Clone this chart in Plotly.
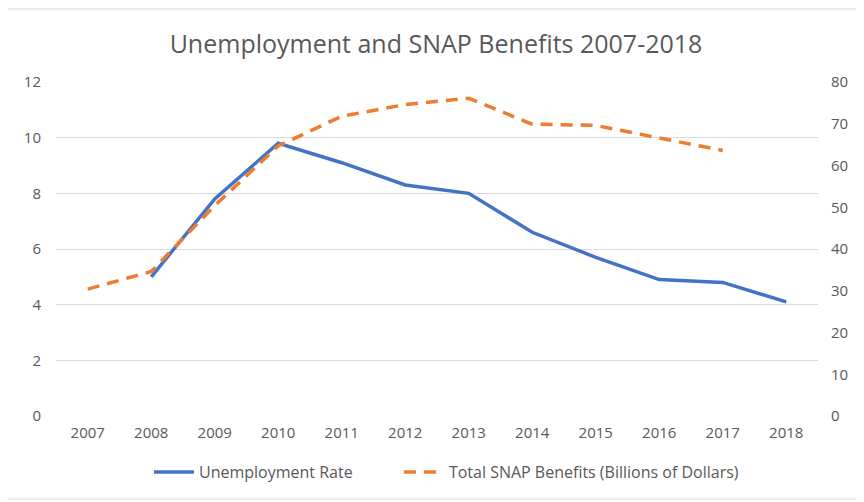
import plotly.graph_objects as go

years = ["2007", "2008", "2009", "2010", "2011", "2012", "2013", "2014", "2015", "2016", "2017", "2018"]
unemployment_rate = [None, 5.0, 7.8, 9.8, 9.1, 8.3, 8.0, 6.6, 5.7, 4.9, 4.8, 4.1]
snap_benefits = [30.4, 34.6, 50.4, 64.7, 71.8, 74.6, 76.1, 69.9, 69.6, 66.5, 63.6, None]

FONT = "'Open Sans', Lato, sans-serif"
GREY = "#595959"

# page body adds an 8px offset; figure is sized to fill the rest of the window
W, H = 856, 494
L, R, T, B = 48, 46, 74, 86

fig = go.Figure()
fig.add_trace(go.Scatter(
    x=years, y=unemployment_rate, name="Unemployment Rate", mode="lines",
    line=dict(color="#4472C4", width=3.5), yaxis="y", legend="legend", showlegend=True))
fig.add_trace(go.Scatter(
    x=years, y=snap_benefits, name="Total SNAP Benefits (Billions of Dollars)", mode="lines",
    line=dict(color="#ED7D31", width=3.5, dash="12px,8px"), yaxis="y2", legend="legend2",
    showlegend=True))

legend_common = dict(orientation="h", xanchor="left", yanchor="middle", y=-0.168,
                     font=dict(size=16, color=GREY), itemwidth=40, bgcolor="rgba(0,0,0,0)")

fig.update_layout(
    width=W, height=H, showlegend=True,
    margin=dict(l=L, r=R, t=T, b=B, autoexpand=False),
    paper_bgcolor="white", plot_bgcolor="white",
    font=dict(family=FONT, size=15, color=GREY),
    title=dict(text="Unemployment and SNAP Benefits 2007-2018", x=0.5, xanchor="center",
               y=0.927, yanchor="middle", font=dict(size=25, color=GREY, family=FONT)),
    xaxis=dict(type="category", range=[-0.5, 11.5], showgrid=False, zeroline=False,
               showline=False, ticks="", ticklabelstandoff=6,
               tickfont=dict(size=15, color=GREY)),
    yaxis=dict(range=[0, 12], dtick=2, showgrid=True, gridcolor="#d9d9d9", gridwidth=1,
               zeroline=False, showline=False, ticks="", ticklabelstandoff=14,
               tickfont=dict(size=15, color=GREY)),
    yaxis2=dict(range=[0, 80], dtick=10, overlaying="y", side="right", showgrid=False,
                zeroline=False, showline=False, ticks="", ticklabelstandoff=12,
                tickfont=dict(size=15, color=GREY)),
    legend=dict(x=0.122, **legend_common),
    legend2=dict(x=0.450, **legend_common),
    shapes=[dict(type="rect", xref="paper", yref="paper", x0=-0.064, x1=1.0525,
                 y0=-0.2485, y1=1.2186, line=dict(color="#d9d9d9", width=1), layer="below")],
)

fig.write_html("out.html")
